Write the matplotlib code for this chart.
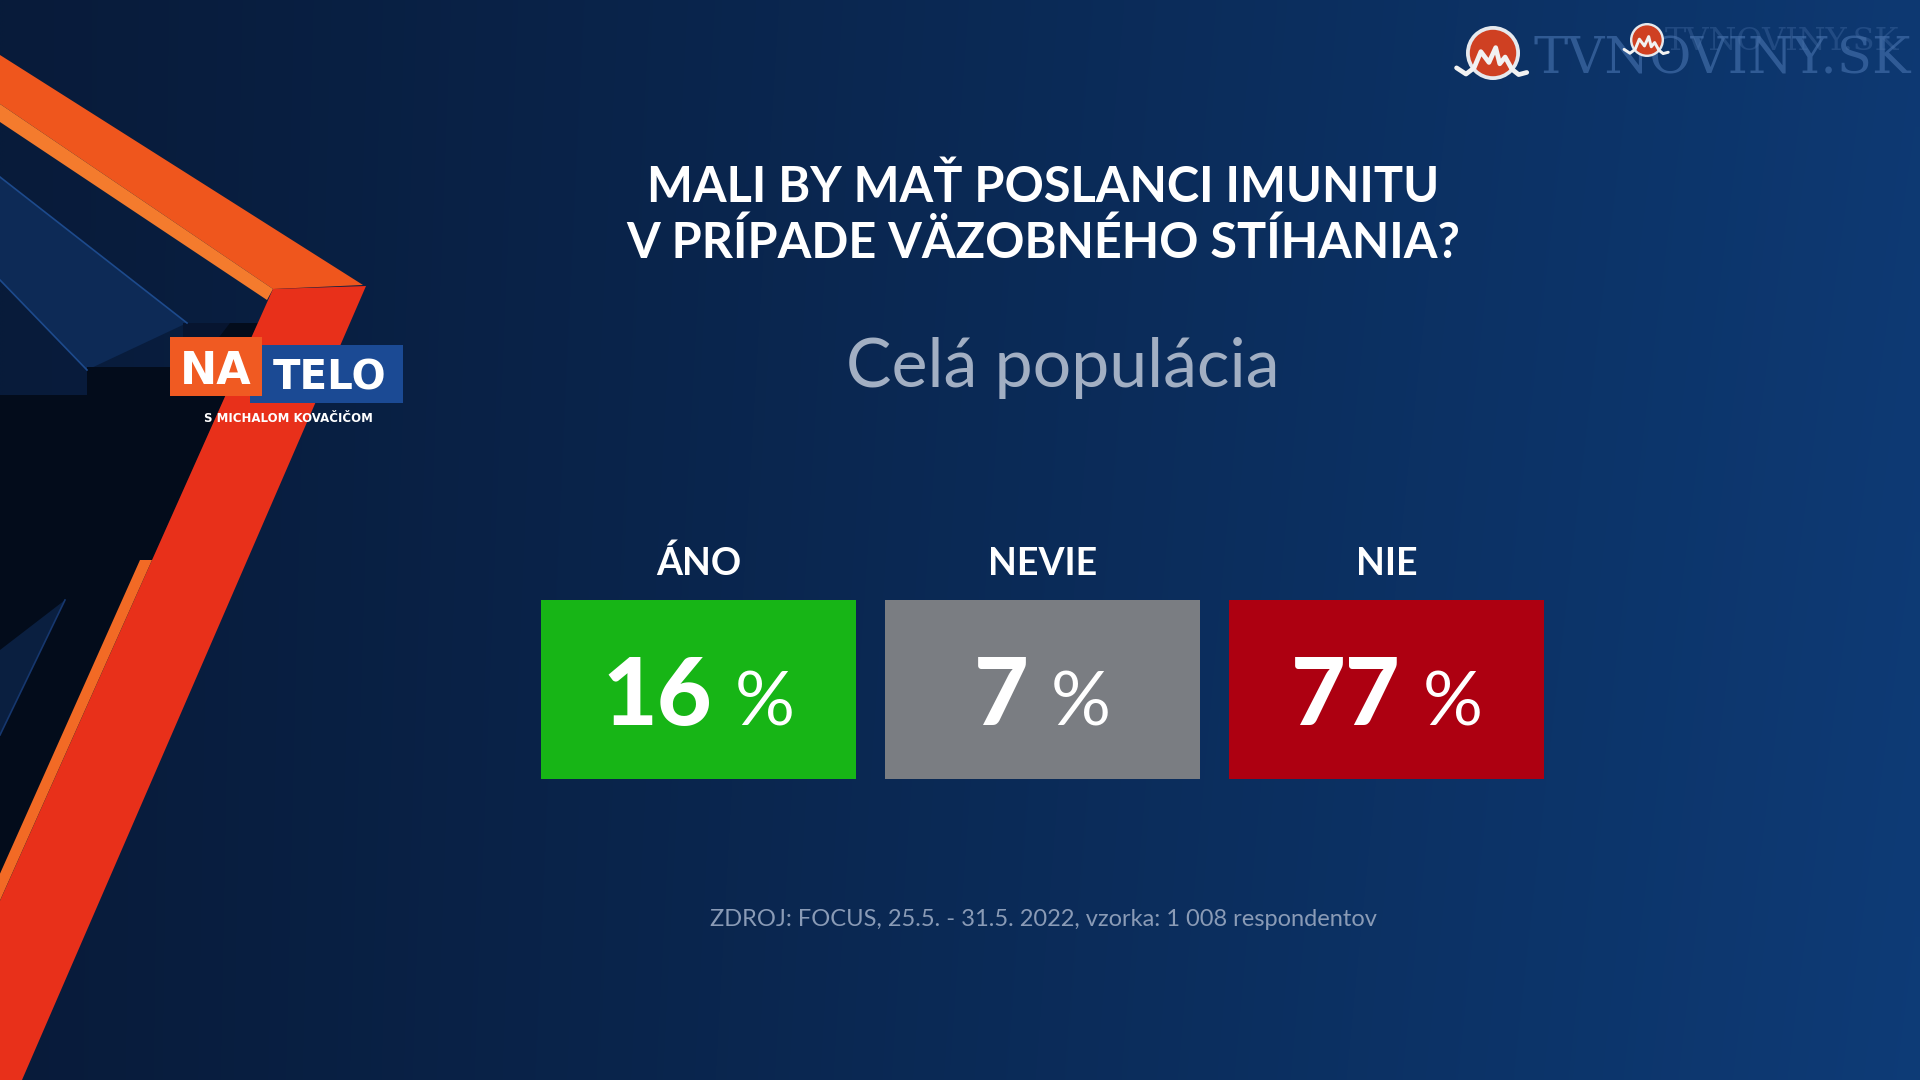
import matplotlib
matplotlib.use("Agg")

import matplotlib.pyplot as plt
import matplotlib.patches as mpatches
import numpy as np

# ── Data ─────────────────────────────────────────────────────── #
TITLE_LINES = ["MALI BY MAŤ POSLANCI IMUNITU", "V PRÍPADE VÄZOBNÉHO STÍHANIA?"]
SUBTITLE = "Celá populácia"
categories = ["ÁNO", "NEVIE", "NIE"]
shares = [16, 7, 77]
SOURCE = "ZDROJ: FOCUS, 25.5. - 31.5. 2022, vzorka: 1 008 respondentov"

# ── Style ────────────────────────────────────────────────────── #
BOX_COLORS = ["#17b516", "#7a7d82", "#ad0011"]
WHITE = "#ffffff"
SUB_COLOR = "#a2afc3"
SRC_COLOR = "#8a9bb6"
ORANGE = "#ef561d"
ORANGE_LT = "#f47b2d"
RED = "#e8301a"
FONT = "Lato"

W, H = 1920, 1080
fig = plt.figure(figsize=(19.2, 10.8), dpi=100)

# background axes in pixel coordinates (y down)
ax = fig.add_axes([0, 0, 1, 1])
ax.set_xlim(0, W)
ax.set_ylim(H, 0)
ax.axis("off")

gx = np.linspace(0, 1, 192)
gy = np.linspace(0, 1, 108)
X, Y = np.meshgrid(gx, gy)
c0 = np.array([8, 27, 58]) / 255
c1 = np.array([14, 60, 120]) / 255
t = np.clip(X ** 1.1 * 0.9 + Y * 0.08 * X, 0, 1)
bg = c0[None, None, :] * (1 - t[..., None]) + c1[None, None, :] * t[..., None]
ax.imshow(bg, extent=(0, W, H, 0), aspect="auto", interpolation="bilinear", zorder=0)

# ── Left frame decoration ────────────────────────────────────── #
def poly(pts, color, z=1, alpha=1.0):
    ax.add_patch(mpatches.Polygon(pts, closed=True, facecolor=color,
                                  edgecolor="none", zorder=z, alpha=alpha))

poly([(0, 177), (187, 323), (87, 370), (0, 280)], "#0d2a56", 1)
poly([(183, 323), (258, 323), (0, 901), (0, 395), (87, 395), (87, 367), (183, 367)], "#030c1b", 2)
poly([(87, 362), (183, 362), (183, 323), (230, 323), (200, 362)], "#071530", 2)
ax.plot([0, 187], [177, 323], color="#1d4a8c", lw=1.2, zorder=2)
ax.plot([0, 87], [280, 370], color="#1d4a8c", lw=1.2, zorder=2)
ax.plot([0, 65], [735, 600], color="#16376e", lw=1.2, zorder=3)
poly([(0, 735), (65, 600), (0, 650)], "#0a1f40", 2)

poly([(0, 55), (363, 285), (273, 289), (0, 104)], ORANGE, 4)
poly([(0, 104), (273, 289), (267, 300), (0, 122)], ORANGE_LT, 4)
poly([(273, 289), (366, 286), (22, 1080), (-80, 1080)], RED, 4)
poly([(152, 560), (-2, 905), (-14, 905), (140, 560)], "#f26a25", 4)

# NA TELO logo
ax.add_patch(mpatches.Rectangle((250, 345), 153, 58, facecolor="#1b4a94", zorder=5))
ax.add_patch(mpatches.Rectangle((170, 337), 92, 59, facecolor="#f05a22", zorder=6))
ax.text(216, 384, "NA", color=WHITE, fontsize=32, fontweight="bold", family="DejaVu Sans",
        ha="center", va="baseline", zorder=7)
ax.text(330, 390, "TELO", color=WHITE, fontsize=29, fontweight="bold", family="DejaVu Sans",
        ha="center", va="baseline", zorder=7)
ax.text(288, 419, "S MICHALOM KOVAČIČOM", color=WHITE, fontsize=8.5, fontweight="bold",
        family="DejaVu Sans", ha="center", va="center", zorder=7)

# TVNOVINY.SK watermark (two overlapping copies, as in the broadcast frame)
ax.text(1533, 73, "TVNOVINY.SK", color="#3d68a3", fontsize=37, family="DejaVu Serif",
        ha="left", va="baseline", alpha=0.75, zorder=5)
ax.text(1665, 50, "TVNOVINY.SK", color="#4a72aa", fontsize=23, family="DejaVu Serif",
        ha="left", va="baseline", alpha=0.35, zorder=5)


def tv_logo(cx, cy, r):
    ax.add_patch(mpatches.Circle((cx, cy), r, facecolor="#e6e9ee", zorder=8))
    ax.add_patch(mpatches.Circle((cx, cy), r * 0.86, facecolor="#cf4022", zorder=9))
    sx = np.array([-1.35, -1.0, -0.7, -0.45, -0.15, 0.1, 0.25, 0.45, 0.7, 0.95, 1.25])
    sy = np.array([0.55, 0.78, 0.55, -0.05, 0.35, -0.2, 0.4, 0.15, 0.6, 0.8, 0.72])
    ax.plot(cx + sx * r, cy + sy * r, color="#f2f2f2", lw=r / 8, zorder=10,
            solid_capstyle="round", solid_joinstyle="round")


tv_logo(1493, 53, 27)
tv_logo(1647, 40, 17)

# ── Titles ───────────────────────────────────────────────────── #
ax.text(1043, 202, TITLE_LINES[0], color=WHITE, fontsize=35, fontweight="bold",
        family=FONT, ha="center", va="baseline", zorder=5)
ax.text(1043, 258, TITLE_LINES[1], color=WHITE, fontsize=35, fontweight="bold",
        family=FONT, ha="center", va="baseline", zorder=5)
ax.text(1063, 387, SUBTITLE, color=SUB_COLOR, fontsize=49, fontweight="normal",
        family=FONT, ha="center", va="baseline", zorder=5)
ax.text(1043, 926, SOURCE, color=SRC_COLOR, fontsize=17, family=FONT,
        ha="center", va="baseline", zorder=5)

# ── Boxes ────────────────────────────────────────────────────── #
step = 344
box_w = 315
left = 698.6 - step / 2
ax_bar = fig.add_axes([left / W, 1 - 779 / H, 3 * step / W, 179 / H])
ax_bar.set_xlim(-0.5, 2.5)
ax_bar.set_ylim(0, 1)
ax_bar.axis("off")
ax_bar.patch.set_alpha(0)

x = np.arange(len(categories))
ax_bar.bar(x, [1] * len(categories), width=box_w / step, color=BOX_COLORS, zorder=2)

for i, cat in enumerate(categories):
    ax_bar.text(i, 1 + (600 - 575) / 179, cat, color=WHITE, fontsize=27,
                fontweight="bold", family=FONT, ha="center", va="baseline")

# value labels: bold number + lighter percent sign, centred as a group
fig.canvas.draw()
renderer = fig.canvas.get_renderer()
base_y = (779 - 725) / 179
gap = 22 / step
for i, v in enumerate(shares):
    tn = ax_bar.text(i, base_y, f"{v}", color=WHITE, fontsize=68, fontweight="black",
                     family=FONT, ha="left", va="baseline", zorder=3)
    tp = ax_bar.text(i, base_y, "%", color=WHITE, fontsize=54, fontweight="normal",
                     family=FONT, ha="left", va="baseline", zorder=3)
    wn = tn.get_window_extent(renderer).width / step
    wp = tp.get_window_extent(renderer).width / step
    x0 = i - (wn + gap + wp) / 2
    tn.set_x(x0)
    tp.set_x(x0 + wn + gap)

fig.savefig("out.png", dpi=100)
